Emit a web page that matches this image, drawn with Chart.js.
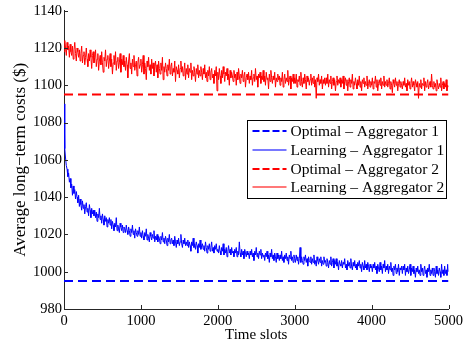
<!DOCTYPE html>
<html>
<head>
<meta charset="utf-8">
<script src="https://cdn.jsdelivr.net/npm/chart.js@4/dist/chart.umd.min.js"></script>
<style>
  html, body { margin: 0; padding: 0; background: #fff; }
  #wrap { width: 466px; height: 347px; }
</style>
</head>
<body>
<div id="wrap"><canvas id="myLine" width="466" height="347"></canvas></div>
<script>
// time slots, read every 10 slots
const slots = [];
for (let t = 0; t <= 5000; t += 10) slots.push(t);

const learning1 = [
  1090, 1066, 1061, 1057, 1055, 1051, 1053, 1048, 1050, 1045,
  1047, 1041, 1046, 1042, 1044, 1039, 1043, 1040, 1037, 1041,
  1035, 1039, 1036, 1033, 1038, 1034, 1036, 1031, 1035, 1037,
  1032, 1034, 1030, 1036, 1033, 1029, 1034, 1031, 1033, 1030,
  1033, 1029, 1032, 1027, 1031, 1029, 1034, 1028, 1030, 1026,
  1031, 1028, 1025, 1030, 1027, 1029, 1024, 1028, 1026, 1029,
  1025, 1028, 1023, 1027, 1025, 1022, 1026, 1024, 1029, 1022,
  1025, 1023, 1021, 1026, 1024, 1022, 1025, 1021, 1024, 1023,
  1021, 1025, 1022, 1020, 1024, 1022, 1019, 1023, 1021, 1025,
  1020, 1022, 1018, 1023, 1021, 1019, 1022, 1020, 1024, 1019,
  1021, 1018, 1022, 1019, 1017, 1021, 1019, 1023, 1017, 1020,
  1018, 1016, 1021, 1019, 1017, 1020, 1018, 1022, 1016, 1019,
  1017, 1020, 1016, 1019, 1018, 1015, 1019, 1017, 1021, 1016,
  1018, 1015, 1019, 1017, 1014, 1018, 1016, 1020, 1015, 1017,
  1018, 1015, 1017, 1014, 1019, 1016, 1013, 1017, 1015, 1018,
  1014, 1016, 1020, 1015, 1013, 1017, 1015, 1018, 1014, 1016,
  1014, 1017, 1013, 1016, 1014, 1011, 1016, 1014, 1018, 1013,
  1015, 1012, 1016, 1014, 1010, 1015, 1013, 1017, 1012, 1014,
  1015, 1012, 1014, 1011, 1016, 1013, 1010, 1014, 1012, 1015,
  1011, 1013, 1016, 1011, 1013, 1010, 1014, 1012, 1015, 1011,
  1012, 1010, 1014, 1011, 1009, 1013, 1011, 1015, 1009, 1012,
  1010, 1013, 1008, 1011, 1014, 1010, 1012, 1009, 1013, 1010,
  1011, 1008, 1012, 1010, 1013, 1008, 1011, 1009, 1016, 1010,
  1008, 1012, 1009, 1011, 1007, 1012, 1010, 1008, 1011, 1009,
  1010, 1007, 1011, 1009, 1012, 1008, 1010, 1006, 1011, 1009,
  1013, 1008, 1010, 1007, 1011, 1009, 1012, 1007, 1010, 1008,
  1009, 1006, 1010, 1008, 1011, 1007, 1009, 1005, 1010, 1008,
  1012, 1007, 1009, 1006, 1010, 1008, 1005, 1010, 1007, 1009,
  1006, 1009, 1007, 1011, 1006, 1008, 1005, 1009, 1007, 1010,
  1006, 1008, 1004, 1009, 1007, 1011, 1006, 1008, 1005, 1009,
  1007, 1005, 1009, 1006, 1008, 1004, 1007, 1013, 1005, 1008,
  1006, 1004, 1008, 1006, 1009, 1005, 1007, 1003, 1008, 1006,
  1005, 1008, 1004, 1007, 1005, 1009, 1004, 1006, 1003, 1008,
  1006, 1004, 1007, 1005, 1008, 1003, 1006, 1004, 1008, 1005,
  1006, 1003, 1007, 1005, 1002, 1006, 1004, 1008, 1003, 1005,
  1007, 1002, 1006, 1004, 1007, 1003, 1005, 1001, 1006, 1004,
  1003, 1006, 1002, 1005, 1004, 1007, 1002, 1004, 1001, 1006,
  1003, 1005, 1002, 1007, 1003, 1001, 1005, 1003, 1006, 1002,
  1004, 1001, 1005, 1003, 1006, 1002, 1004, 1000, 1005, 1003,
  1001, 1006, 1002, 1004, 1001, 1005, 1003, 1000, 1004, 1002,
  1003, 1000, 1004, 1002, 1005, 1001, 1003, 999, 1004, 1002,
  1000, 1005, 1001, 1003, 999, 1004, 1002, 1006, 1000, 1003,
  1001, 1004, 999, 1003, 1001, 1005, 1000, 1002, 998, 1003,
  1001, 1004, 999, 1002, 1000, 1004, 998, 1002, 1001, 1003,
  999, 1003, 1001, 1004, 998, 1002, 1000, 1003, 999, 1001,
  1004, 998, 1002, 1000, 1003, 999, 1001, 997, 1002, 1000,
  1003, 999, 1001, 998, 1004, 1000, 1002, 998, 1001, 1003,
  999, 1001, 997, 1002, 1000, 1004, 998, 1001, 999, 1002,
  998, 1002, 1000, 997, 1003, 999, 1001, 998, 1002, 1000,
  997, 1004, 999, 1001, 998, 1003, 999, 1001, 998, 1004,
  1000
];

const learning2 = [
  1118, 1124, 1120, 1116, 1123, 1119, 1121, 1115, 1122, 1118,
  1116, 1121, 1114, 1119, 1123, 1117, 1113, 1120, 1118, 1115,
  1119, 1113, 1117, 1121, 1112, 1116, 1118, 1111, 1115, 1120,
  1114, 1110, 1117, 1113, 1119, 1115, 1109, 1116, 1118, 1112,
  1115, 1119, 1110, 1114, 1117, 1108, 1113, 1116, 1111, 1118,
  1112, 1107, 1115, 1113, 1119, 1110, 1114, 1116, 1109, 1113,
  1117, 1110, 1114, 1106, 1112, 1116, 1111, 1118, 1108, 1113,
  1115, 1109, 1112, 1117, 1107, 1114, 1111, 1116, 1110, 1113,
  1108, 1115, 1111, 1104, 1113, 1117, 1109, 1112, 1106, 1114,
  1110, 1116, 1108, 1111, 1113, 1105, 1112, 1115, 1109, 1111,
  1114, 1107, 1111, 1116, 1106, 1112, 1109, 1103, 1113, 1110,
  1115, 1108, 1111, 1106, 1114, 1109, 1112, 1105, 1110, 1113,
  1107, 1111, 1104, 1113, 1109, 1106, 1112, 1108, 1115, 1103,
  1110, 1107, 1112, 1109, 1105, 1111, 1108, 1114, 1106, 1110,
  1112, 1105, 1109, 1107, 1113, 1102, 1110, 1108, 1106, 1111,
  1104, 1109, 1113, 1107, 1110, 1105, 1108, 1112, 1103, 1109,
  1106, 1111, 1104, 1109, 1107, 1112, 1103, 1108, 1105, 1110,
  1107, 1102, 1109, 1106, 1111, 1104, 1108, 1105, 1110, 1107,
  1103, 1109, 1106, 1111, 1104, 1107, 1102, 1108, 1105, 1110,
  1103, 1107, 1109, 1104, 1106, 1101, 1108, 1105, 1110, 1097,
  1107, 1103, 1109, 1105, 1101, 1108, 1104, 1110, 1106, 1102,
  1107, 1105, 1109, 1103, 1106, 1100, 1108, 1104, 1107, 1105,
  1102, 1108, 1104, 1106, 1100, 1107, 1103, 1109, 1105, 1101,
  1106, 1104, 1108, 1102, 1105, 1107, 1099, 1104, 1106, 1103,
  1107, 1101, 1105, 1103, 1108, 1100, 1104, 1106, 1102, 1109,
  1103, 1105, 1099, 1106, 1104, 1107, 1101, 1105, 1103, 1108,
  1102, 1105, 1100, 1107, 1103, 1104, 1098, 1106, 1102, 1108,
  1104, 1101, 1105, 1103, 1107, 1099, 1104, 1102, 1106, 1103,
  1105, 1100, 1104, 1102, 1107, 1099, 1103, 1106, 1101, 1104,
  1102, 1108, 1100, 1103, 1105, 1098, 1104, 1102, 1106, 1101,
  1104, 1101, 1106, 1099, 1103, 1102, 1105, 1100, 1107, 1102,
  1099, 1104, 1101, 1106, 1103, 1098, 1105, 1102, 1104, 1100,
  1103, 1106, 1100, 1104, 1101, 1105, 1099, 1103, 1093, 1104,
  1102, 1106, 1100, 1103, 1101, 1105, 1098, 1103, 1101, 1104,
  1100, 1104, 1101, 1106, 1099, 1103, 1101, 1105, 1098, 1102,
  1104, 1100, 1103, 1097, 1102, 1105, 1100, 1103, 1101, 1104,
  1099, 1103, 1101, 1105, 1098, 1102, 1104, 1100, 1103, 1097,
  1102, 1104, 1099, 1103, 1101, 1106, 1098, 1102, 1100, 1104,
  1101, 1098, 1103, 1100, 1105, 1099, 1102, 1097, 1103, 1101,
  1104, 1099, 1102, 1100, 1105, 1098, 1101, 1103, 1099, 1102,
  1100, 1104, 1098, 1102, 1101, 1105, 1099, 1103, 1097, 1101,
  1103, 1100, 1104, 1098, 1102, 1100, 1105, 1099, 1102, 1100,
  1103, 1099, 1101, 1104, 1098, 1102, 1100, 1096, 1103, 1101,
  1099, 1104, 1100, 1102, 1097, 1101, 1103, 1099, 1102, 1100,
  1098, 1102, 1100, 1104, 1099, 1101, 1097, 1103, 1100, 1102,
  1098, 1101, 1104, 1099, 1102, 1100, 1097, 1103, 1101, 1099,
  1102, 1093, 1101, 1099, 1103, 1098, 1101, 1100, 1104, 1097,
  1102, 1099, 1101, 1103, 1098, 1100, 1102, 1099, 1106, 1100,
  1098, 1102, 1099, 1101, 1097, 1103, 1100, 1098, 1101, 1099,
  1104, 1097, 1100, 1102, 1098, 1101, 1099, 1103, 1097, 1100,
  1099
];

const optimal1 = 995;
const optimal2 = 1095;
const xTicks = [0, 1000, 2000, 3000, 4000, 5000];
const yTicks = [980, 1000, 1020, 1040, 1060, 1080, 1100, 1120, 1140];
const seriesNames = ["Optimal \u2013 Aggregator 1", "Learning \u2013 Aggregator 1", "Optimal \u2013 Aggregator 2", "Learning \u2013 Aggregator 2"];

const FONT = "'Liberation Serif', 'Times New Roman', serif";
const BLUE = "#0000ff", RED = "#ff0000";

function pts(vals) { return vals.map((v, i) => ({ x: slots[i], y: v })); }
function flat(v) { return [{ x: slots[0], y: v }, { x: slots[slots.length - 1], y: v }]; }

// inward ticks, like the matlab axes
const inTicks = {
  id: 'inTicks',
  afterDatasetsDraw(chart) {
    const c = chart.ctx, xs = chart.scales.x, ys = chart.scales.y;
    c.save();
    c.strokeStyle = '#262626';
    c.lineWidth = 1;
    c.beginPath();
    xTicks.forEach(t => {
      const px = Math.round(xs.getPixelForValue(t)) + 0.5;
      c.moveTo(px, ys.bottom); c.lineTo(px, ys.bottom - 4);
    });
    yTicks.forEach(t => {
      const py = Math.round(ys.getPixelForValue(t)) + 0.5;
      c.moveTo(xs.left, py); c.lineTo(xs.left + 4, py);
    });
    c.stroke();
    c.restore();
  }
};

// legend box inside the plot
const legendLines = [
  { color: BLUE, dashed: true },
  { color: '#7878ff', dashed: false },
  { color: RED, dashed: true },
  { color: '#ff7878', dashed: false }
];
const boxLegend = {
  id: 'boxLegend',
  afterDraw(chart) {
    const c = chart.ctx;
    const x0 = 247.5, y0 = 120.5, w = 199, h = 78;
    c.save();
    c.fillStyle = '#fff';
    c.fillRect(x0, y0, w, h);
    c.strokeStyle = '#000';
    c.lineWidth = 1;
    c.strokeRect(x0, y0, w, h);
    c.font = '15.5px ' + FONT;
    c.textBaseline = 'middle';
    seriesNames.forEach((name, i) => {
      const y = Math.round(y0 + 10.5 + i * 18.8);
      const st = legendLines[i];
      c.fillStyle = st.color;
      if (st.dashed) {
        for (let dx = 0; dx < 34; dx += 10) c.fillRect(x0 + 5 + dx, y - 1, Math.min(7, 34 - dx), 2);
      } else {
        c.fillRect(x0 + 5, y - 1, 34, 2);
      }
      c.fillStyle = '#000';
      c.fillText(name, x0 + 43, y + 1);
    });
    c.restore();
  }
};

let a = document.getElementById("myLine");
let lineChart = new Chart(a, {
  type: 'line',
  data: {
    datasets: [{
      label: seriesNames[0],
      data: flat(optimal1),
      borderColor: BLUE,
      borderWidth: 2,
      borderDash: [9, 5],
      order: 4
    }, {
      label: seriesNames[1],
      data: pts(learning1),
      borderColor: BLUE,
      borderWidth: 1,
      order: 3
    }, {
      label: seriesNames[2],
      data: flat(optimal2),
      borderColor: RED,
      borderWidth: 2,
      borderDash: [9, 5],
      order: 2
    }, {
      label: seriesNames[3],
      data: pts(learning2),
      borderColor: RED,
      borderWidth: 1,
      order: 1
    }]
  },
  options: {
    responsive: false,
    animation: false,
    layout: { padding: { top: 10, right: 15, left: 0, bottom: 0 } },
    elements: { point: { radius: 0 }, line: { tension: 0, fill: false } },
    plugins: { legend: { display: false }, tooltip: { enabled: false } },
    scales: {
      x: {
        type: 'linear',
        min: 0, max: 5000,
        afterBuildTicks: s => { s.ticks = xTicks.map(v => ({ value: v })); },
        afterFit: s => { s.height = 38; },
        grid: { display: false, drawTicks: false },
        border: { display: true, color: '#262626', width: 1 },
        ticks: { color: '#000', font: { family: FONT, size: 14.5 }, padding: 3, maxRotation: 0, callback: v => String(v) },
        title: { display: true, text: 'Time slots', color: '#000', font: { family: FONT, size: 15 }, padding: { top: 0, bottom: 2.5 } }
      },
      y: {
        min: 980, max: 1140,
        afterBuildTicks: s => { s.ticks = yTicks.map(v => ({ value: v })); },
        afterFit: s => { s.width = 64; },
        grid: { display: false, drawTicks: false },
        border: { display: true, color: '#262626', width: 1 },
        ticks: { color: '#000', font: { family: FONT, size: 14.5 }, padding: 2, callback: v => String(v) },
        title: { display: true, text: 'Average long\u2212term costs ($)', color: '#000', font: { family: FONT, size: 17 }, padding: { top: 10, bottom: 0 } }
      }
    }
  },
  plugins: [inTicks, boxLegend]
});
</script>
</body>
</html>
